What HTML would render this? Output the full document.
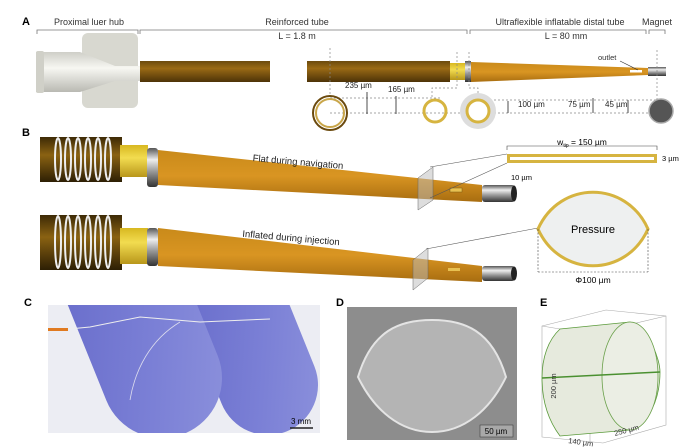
<!DOCTYPE html>
<html><head><meta charset="utf-8"><style>
html,body{margin:0;padding:0;background:#fff;}
svg{display:block;font-family:"Liberation Sans",Arial,sans-serif;}
</style></head><body>
<svg width="688" height="447" viewBox="0 0 688 447" xmlns="http://www.w3.org/2000/svg">
<defs>
<linearGradient id="brown" x1="0" y1="0" x2="0" y2="1"><stop offset="0" stop-color="#6b4a0e"/><stop offset="0.35" stop-color="#9a6a15"/><stop offset="1" stop-color="#4d3308"/></linearGradient>
<linearGradient id="orange" x1="0" y1="0" x2="0" y2="1"><stop offset="0" stop-color="#c98a1a"/><stop offset="0.5" stop-color="#d99522"/><stop offset="1" stop-color="#a86d10"/></linearGradient>
<linearGradient id="yel" x1="0" y1="0" x2="0" y2="1"><stop offset="0" stop-color="#d8b820"/><stop offset="0.4" stop-color="#f2dc50"/><stop offset="1" stop-color="#b8961a"/></linearGradient>
<linearGradient id="metal" x1="0" y1="0" x2="0" y2="1"><stop offset="0" stop-color="#555"/><stop offset="0.3" stop-color="#eee"/><stop offset="0.6" stop-color="#999"/><stop offset="1" stop-color="#333"/></linearGradient>
<linearGradient id="hub" x1="0" y1="0" x2="0" y2="1"><stop offset="0" stop-color="#cfcfc8"/><stop offset="0.4" stop-color="#f7f7f2"/><stop offset="1" stop-color="#b9b9b2"/></linearGradient>
<linearGradient id="coil" x1="0" y1="0" x2="0" y2="1"><stop offset="0" stop-color="#3d2a06"/><stop offset="0.4" stop-color="#8a6212"/><stop offset="1" stop-color="#2d1f04"/></linearGradient>
<linearGradient id="glove" x1="0" y1="0" x2="1" y2="1"><stop offset="0" stop-color="#6468c8"/><stop offset="0.6" stop-color="#7b80d6"/><stop offset="1" stop-color="#8d92dc"/></linearGradient>
<clipPath id="cclip"><rect x="48" y="305" width="272" height="128"/></clipPath>
</defs>

<!-- Panel A -->
<text x="22" y="25" font-size="11" font-weight="bold">A</text>
<g font-size="9" fill="#333" text-anchor="middle">
<text x="89" y="25">Proximal luer hub</text>
<text x="297" y="25">Reinforced tube</text>
<text x="297" y="39">L = 1.8 m</text>
<text x="560" y="25">Ultraflexible inflatable distal tube</text>
<text x="566" y="39">L = 80 mm</text>
<text x="657" y="25">Magnet</text>
</g>
<g stroke="#777" fill="none" stroke-width="0.8">
<path d="M37 34V30H138V34"/><path d="M140 34V30H467V34"/><path d="M470 34V30H646V34"/><path d="M649 34V30H665V34"/>
</g>
<rect x="82" y="33" width="56" height="75" rx="6" fill="#d8d8d0"/>
<path d="M36 52H80L115 66H140V81H115L80 92H36Z" fill="url(#hub)"/>
<rect x="36" y="51" width="8" height="42" rx="2" fill="#d0d0c8"/>
<rect x="140" y="61" width="130" height="21" fill="url(#brown)"/>
<rect x="307" y="61" width="143" height="21" fill="url(#brown)"/>
<rect x="450" y="63" width="15" height="17" fill="url(#yel)"/>
<rect x="465" y="61" width="6" height="21" fill="url(#metal)"/>
<path d="M471 62L648 68V75L471 82Z" fill="url(#orange)"/>
<rect x="630" y="70" width="12" height="2.5" fill="#fff"/>
<rect x="648" y="67" width="18" height="9" fill="url(#metal)"/>
<text x="598" y="60" font-size="7.5" fill="#333">outlet</text>
<line x1="620" y1="61" x2="638" y2="70" stroke="#333" stroke-width="0.6"/>
<g stroke="#888" stroke-width="0.7" stroke-dasharray="2,2" fill="none">
<path d="M330 48V95"/><path d="M457 52V88H432V100"/><path d="M469 52V88H478V95"/><path d="M657 50V100"/>
<path d="M330 113H661"/><path d="M330 98H440"/><path d="M478 100H661"/>
</g>
<g stroke="#222" stroke-width="0.8">
<path d="M367 92V114M396 96V114M508 101V113M593 98V113M628 100V113"/>
</g>
<g font-size="8" fill="#222">
<text x="345" y="88">235 µm</text><text x="388" y="92">165 µm</text>
<text x="518" y="107">100 µm</text><text x="568" y="107">75 µm</text><text x="605" y="107">45 µm</text>
</g>
<circle cx="330" cy="113" r="17" fill="none" stroke="#6b4a0e" stroke-width="2"/>
<circle cx="330" cy="113" r="14" fill="none" stroke="#c9a64a" stroke-width="2"/>
<circle cx="435" cy="111" r="11" fill="none" stroke="#d6b440" stroke-width="3"/>
<circle cx="478" cy="111" r="18" fill="#ddd"/>
<circle cx="478" cy="111" r="11" fill="#fff" stroke="#d6b440" stroke-width="3"/>
<circle cx="661" cy="111" r="12" fill="#555" stroke="#aaa" stroke-width="1.5"/>

<!-- Panel B -->
<text x="22" y="136" font-size="11" font-weight="bold">B</text>
<path d="M158 150L482 185V202L158 185Z" fill="url(#orange)"/>
<rect x="40" y="137" width="82" height="45" fill="url(#coil)"/>
<g stroke="#eee" stroke-width="2" fill="none">
<ellipse cx="58" cy="159" rx="3" ry="21"/><ellipse cx="68" cy="159" rx="3" ry="21"/><ellipse cx="78" cy="159" rx="3" ry="21"/><ellipse cx="88" cy="159" rx="3" ry="21"/><ellipse cx="98" cy="159" rx="3" ry="21"/><ellipse cx="108" cy="159" rx="3" ry="21"/>
</g>
<rect x="120" y="145" width="28" height="32" fill="url(#yel)"/>
<rect x="147" y="148" width="11" height="39" rx="3" fill="url(#metal)"/>
<polygon points="418,178 433,167 433,200 418,210" fill="#bbb" fill-opacity="0.5" stroke="#666" stroke-width="0.5"/>
<rect x="450" y="188" width="12" height="4" fill="#e8c050" stroke="#7a5a10" stroke-width="0.5"/>
<rect x="482" y="185" width="33" height="17" rx="3" fill="url(#metal)"/>
<ellipse cx="514" cy="193.5" rx="3" ry="8" fill="#222"/>
<text x="298" y="165" font-size="9.5" text-anchor="middle" fill="#222" transform="rotate(5 298 162)">Flat during navigation</text>
<path d="M430 167L507 154M430 198L507 163" stroke="#555" stroke-width="0.6" fill="none"/>
<rect x="507" y="154" width="150" height="9" fill="#d6b440"/>
<rect x="510" y="157" width="144" height="3" fill="#fff"/>
<path d="M507 150V146H657V150" stroke="#444" stroke-width="0.6" fill="none"/>
<text x="582" y="145" font-size="8.5" text-anchor="middle">w<tspan font-size="5" dy="2">tip</tspan><tspan dy="-2"> = 150 µm</tspan></text>
<text x="662" y="161" font-size="7.5">3 µm</text>
<text x="511" y="180" font-size="7.5">10 µm</text>
<path d="M158 228L482 266V282L158 266Z" fill="url(#orange)"/>
<rect x="40" y="215" width="82" height="55" fill="url(#coil)"/>
<g stroke="#eee" stroke-width="2" fill="none">
<ellipse cx="58" cy="242" rx="3" ry="26"/><ellipse cx="68" cy="242" rx="3" ry="26"/><ellipse cx="78" cy="242" rx="3" ry="26"/><ellipse cx="88" cy="242" rx="3" ry="26"/><ellipse cx="98" cy="242" rx="3" ry="26"/><ellipse cx="108" cy="242" rx="3" ry="26"/>
</g>
<rect x="120" y="228" width="28" height="36" fill="url(#yel)"/>
<rect x="147" y="228" width="11" height="38" rx="3" fill="url(#metal)"/>
<polygon points="413,260 428,248 428,278 413,290" fill="#bbb" fill-opacity="0.5" stroke="#666" stroke-width="0.5"/>
<rect x="448" y="268" width="12" height="3" fill="#e8c050"/>
<rect x="482" y="266" width="33" height="15" rx="3" fill="url(#metal)"/>
<ellipse cx="514" cy="273.5" rx="3" ry="7" fill="#222"/>
<text x="291" y="241" font-size="9.5" text-anchor="middle" fill="#222" transform="rotate(5 291 238)">Inflated during injection</text>
<path d="M426 249L538 228" stroke="#555" stroke-width="0.6" fill="none"/>
<path d="M538 229C560 180 626 180 648 229C626 278 560 278 538 229Z" fill="#eef0f0" stroke="#d6b440" stroke-width="3"/>
<text x="593" y="233" font-size="11" text-anchor="middle">Pressure</text>
<path d="M538 229V272M648 229V272M538 272H648" stroke="#444" stroke-width="0.6" stroke-dasharray="2,1.5" fill="none"/>
<text x="593" y="283" font-size="8.5" text-anchor="middle">Φ100 µm</text>

<!-- Panel C -->
<text x="24" y="306" font-size="11" font-weight="bold">C</text>
<rect x="48" y="305" width="272" height="128" fill="#ecedf3"/>
<g clip-path="url(#cclip)">
<rect x="-50" y="-160" width="100" height="210" rx="50" fill="url(#glove)" transform="translate(268 385) rotate(-22)"/>
<rect x="-60" y="-200" width="120" height="260" rx="60" fill="url(#glove)" transform="translate(162 378) rotate(-22)"/>
</g>
<path d="M48 331L90 327L140 317L200 322L270 319" stroke="#eee" stroke-width="1" fill="none"/>
<path d="M180 322C150 340 135 370 130 400" stroke="#dde" stroke-width="0.8" fill="none"/>
<rect x="48" y="328" width="20" height="3" fill="#e07a20"/>
<line x1="290" y1="428" x2="313" y2="428" stroke="#222" stroke-width="1.5"/>
<text x="301" y="424" font-size="8" text-anchor="middle">3 mm</text>

<!-- Panel D -->
<text x="336" y="306" font-size="11" font-weight="bold">D</text>
<rect x="347" y="307" width="170" height="133" fill="#8d8d8d"/>
<path d="M358 377C372 330 400 320 432 320C464 320 492 330 506 377C490 410 464 432 432 432C400 432 374 410 358 377Z" fill="#b4b4b4" stroke="#e4e4e4" stroke-width="2"/>
<rect x="480" y="425" width="33" height="12" fill="#a8a8a8" stroke="#333" stroke-width="0.5"/>
<text x="496" y="434" font-size="8" text-anchor="middle">50 µm</text>

<!-- Panel E -->
<text x="540" y="306" font-size="11" font-weight="bold">E</text>
<g stroke="#aaa" stroke-width="0.6" fill="none">
<path d="M542 326L606 310L666 316V425L603 443L542 437Z"/>
<path d="M542 326L590 334L666 316M590 334V443"/>
</g>
<path d="M560 329L630 322C650 330 660 360 660 372C660 400 648 425 630 430L560 436C548 420 542 400 542 378C542 358 548 340 560 329Z" fill="#e6eadd" stroke="#5a9a3a" stroke-width="0.8"/>
<ellipse cx="630" cy="376" rx="28" ry="54" fill="#ebeee4" stroke="#6aa04a" stroke-width="0.8"/>
<path d="M542 378L660 372" stroke="#4a9030" stroke-width="1.5"/>
<text x="556" y="386" font-size="7.5" fill="#333" transform="rotate(-90 556 386)" text-anchor="middle">200 µm</text>
<text x="568" y="443" font-size="7.5" fill="#333" transform="rotate(8 568 443)">140 µm</text>
<text x="615" y="436" font-size="7.5" fill="#333" transform="rotate(-15 615 436)">250 µm</text>
</svg>
</body></html>
